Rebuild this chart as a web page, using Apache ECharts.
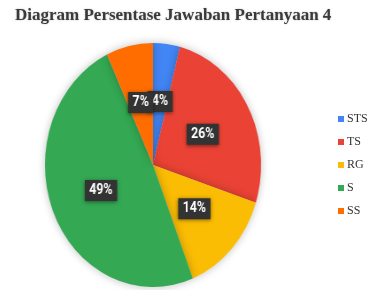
<!DOCTYPE html>
<html>
<head>
<meta charset="utf-8">
<script src="https://cdn.jsdelivr.net/npm/echarts@6/dist/echarts.min.js"></script>
<style>
html,body{margin:0;padding:0;background:#fff;}
#wrap{position:relative;width:390px;height:290px;overflow:hidden;}
#pie{position:absolute;left:0;top:0;width:390px;height:290px;transform:scaleX(0.886);transform-origin:153px 165px;}
#chart{position:absolute;left:0;top:0;width:390px;height:290px;}
</style>
</head>
<body>
<div id="wrap">
	<div id="pie"></div>
	<div id="chart"></div>
</div>
<script>
var categories = ['STS', 'TS', 'RG', 'S', 'SS'];
var values = [4, 26, 14, 49, 7];
var colors = ['#4285f4', '#ea4335', '#fbbc04', '#34a853', '#ff6d01'];

var pieData = [];
for (var i = 0; i < categories.length; i++) {
	pieData.push({ name: categories[i], value: values[i], itemStyle: { color: colors[i] } });
}

// pie drawn in its own (horizontally squeezed) layer, the reference pie is an ellipse
var pieChart = echarts.init(document.getElementById('pie'));
pieChart.setOption({
	animation: false,
	series: [
		{
			type: 'pie',
			center: [153, 165],
			radius: 122,
			startAngle: 90,
			clockwise: true,
			data: pieData,
			itemStyle: {
				shadowColor: 'rgba(0,0,0,0.25)',
				shadowBlur: 10
			},
			labelLayout: { hideOverlap: false },
			label: {
				position: 'inside',
				formatter: '{d}%',
				color: '#fff',
				fontFamily: 'Roboto',
				fontWeight: 'bold',
				fontSize: 14,
				backgroundColor: '#333',
				padding: [4, 5, 3, 5],
				shadowColor: 'rgba(0,0,0,0.5)',
				shadowBlur: 4,
				shadowOffsetY: 1
			},
			labelLine: { show: false }
		}
	]
});

// title + legend layer
var myChart = echarts.init(document.getElementById('chart'));
myChart.setOption({
	animation: false,
	title: {
		text: 'Diagram Persentase Jawaban Pertanyaan 4',
		left: 10,
		top: 2,
		textStyle: {
			fontFamily: 'Liberation Serif',
			fontWeight: 'bold',
			fontSize: 17,
			color: '#3a3a3a',
			textShadowColor: 'rgba(0,0,0,0.25)',
			textShadowBlur: 2
		}
	},
	legend: {
		orient: 'vertical',
		left: 333,
		top: 108,
		itemWidth: 6,
		itemHeight: 6,
		itemGap: 11,
		icon: 'rect',
		data: categories,
		selectedMode: false,
		textStyle: {
			fontFamily: 'Liberation Serif',
			fontSize: 12,
			color: '#333',
			padding: [0, 0, 0, -2]
		}
	},
	series: [
		{
			type: 'pie',
			center: [153, 165],
			radius: 0,
			silent: true,
			label: { show: false },
			labelLine: { show: false },
			data: pieData
		}
	]
});
</script>
</body>
</html>
